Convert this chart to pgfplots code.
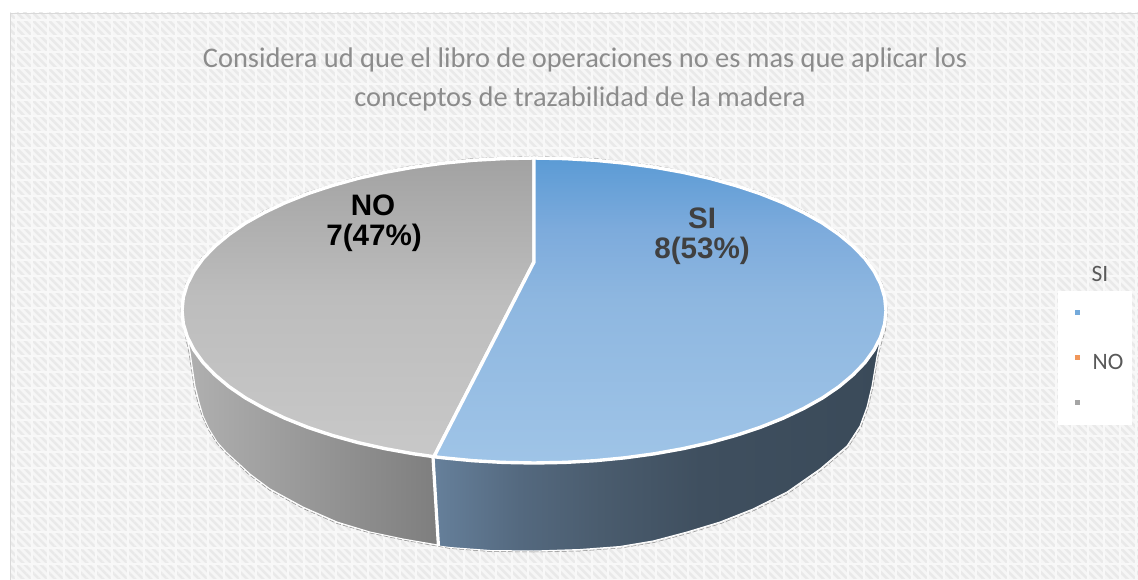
\documentclass[border=0pt]{standalone}
\usepackage{fontspec}
\usepackage{pgfplots}
\pgfplotsset{compat=1.18}
\usetikzlibrary{patterns.meta}
\setmainfont{Carlito}
\newfontfamily\labelfont{Liberation Sans}

\definecolor{frameline}{HTML}{D9D9D9}
\definecolor{bgbase}{HTML}{F6F6F6}
\definecolor{bgstripe}{HTML}{E9E9E9}
\definecolor{gridline}{HTML}{F8F8F8}
\definecolor{titlegray}{HTML}{8C8C8C}
\definecolor{legendtext}{HTML}{595959}
\definecolor{labeldark}{HTML}{404040}
\definecolor{blueA}{HTML}{5B9BD5}
\definecolor{blueM}{HTML}{7DABDC}
\definecolor{blueN}{HTML}{8EB7E0}
\definecolor{blueB}{HTML}{9FC4E7}
\definecolor{grayA}{HTML}{A2A2A2}
\definecolor{grayM}{HTML}{B0B0B0}
\definecolor{grayN}{HTML}{BDBDBD}
\definecolor{grayB}{HTML}{C8C8C8}
\definecolor{sideGA}{HTML}{B0B0B0}
\definecolor{sideGB}{HTML}{7E7E7E}
\definecolor{sideBA}{HTML}{66809B}
\definecolor{sideBM}{HTML}{54697F}
\definecolor{sideBN}{HTML}{4A5C6E}
\definecolor{sideBO}{HTML}{3F4F5F}
\definecolor{sideBB}{HTML}{3A4A59}
\definecolor{orangeK}{HTML}{ED7D31}
\definecolor{grayK}{HTML}{A5A5A5}

% the path box runs from 25bp to 75bp of these shadings
\pgfdeclareverticalshading{topblue}{100bp}{color(0bp)=(blueB); color(25bp)=(blueB); color(51.7bp)=(blueN); color(63.2bp)=(blueM); color(75bp)=(blueA); color(100bp)=(blueA)}
\pgfdeclareverticalshading{topgray}{100bp}{color(0bp)=(grayB); color(25bp)=(grayB); color(51.7bp)=(grayN); color(63.2bp)=(grayM); color(75bp)=(grayA); color(100bp)=(grayA)}
\pgfdeclarehorizontalshading{wallblue}{100bp}{color(0bp)=(sideBA); color(25bp)=(sideBA); color(34.7bp)=(sideBM); color(43.7bp)=(sideBN); color(54.9bp)=(sideBO); color(75bp)=(sideBB); color(100bp)=(sideBB)}

% outlines, in pixels (SI 8, NO 7)
\pgfplotstableread{
x y
10 13
1138 13
1138 580
10 580
}\bgrect

\pgfplotstableread{
x y
534 158
564.7 158.6
595.1 160.3
625.1 163.2
654.4 167.2
682.8 172.3
710 178.4
735.9 185.6
760.3 193.7
782.9 202.7
803.6 212.5
822.4 223
838.8 234.3
853 246.1
864.8 258.3
874 271
880.7 284
884.7 297.2
886 310.5
884.7 323.8
880.7 337
874 350
864.8 362.7
853 374.9
838.8 386.8
822.4 398
803.6 408.5
782.9 418.3
760.3 427.3
735.9 435.4
710 442.6
682.8 448.7
654.4 453.8
625.1 457.8
595.1 460.7
564.7 462.4
534 463
503.3 462.4
472.9 460.7
442.9 457.8
434 456.7
534 262
}\topsi

\pgfplotstableread{
x y
434 456.7
413.6 453.8
385.2 448.7
358 442.6
332.1 435.4
307.7 427.3
285.1 418.3
264.4 408.5
245.6 398
229.2 386.8
215 374.9
203.2 362.7
194 350
187.3 337
183.3 323.8
182 310.5
183.3 297.2
187.3 284
194 271
203.2 258.3
215 246.1
229.2 234.3
245.6 223
264.4 212.5
285.1 202.7
307.7 193.7
332.1 185.6
358 178.4
385.2 172.3
413.6 167.2
442.9 163.2
472.9 160.3
503.3 158.6
534 158
534 262
}\topno

\pgfplotstableread{
x y
433 450
438 545
403 539
370 532
337 522
303 507
270 489
250 474
237 462
226 452
217 442
209 429
203 416
199 402
195 386
190 352
186 330
200 330
300 420
}\sideno

\pgfplotstableread{
x y
433 450
438 546
450 547.5
490 550.5
534 551
580 549.5
620 546.5
653 541
687 532
720 522
753 509
787 492
820 469
847 446
860 426
867 407
872 386
877 356
880 342
860 340
760 420
600 450
}\sidesi

\pgfplotstableread{
x y
534 552
490 551.5
450 548.5
403 540
370 533
337 523.5
303 508.5
270 490.5
250 475.5
237 463.5
226 453.5
217 443.5
208.5 430
202.5 417
198 403
194 387
189 353
184 330
180.3 310.5
185.7 283.7
201.6 257.7
227.7 233.4
263.1 211.3
306.6 192.3
357.2 176.9
413 165.5
472.6 158.5
534 156.2
595.4 158.5
655 165.5
710.9 176.9
761.4 192.3
805 211.3
840.3 233.4
866.4 257.7
882.3 283.7
887.7 310.5
885.5 330
881.5 343
878 357
873 387
868 408
861 427.5
848 447.5
821 470.5
788 493.5
754 510.5
721 523.5
688 533.5
654 542.5
621 548
580 551
534 552
}\rim

\begin{document}
\begin{tikzpicture}
\begin{axis}[
    width=1138pt, height=580pt,
    scale only axis,
    xmin=0, xmax=1138,
    ymin=0, ymax=580,
    y dir=reverse,
    axis lines=none,
    clip=true,
]
% page area, keeps the white margin in the picture
\addplot[forget plot, draw=none, fill=white] coordinates {(0,0) (1138,0) (1138,580) (0,580)} -- cycle;
% chart background
\addplot[forget plot, draw=none, fill=bgbase] table {\bgrect} -- cycle;
\addplot[forget plot, draw=none, pattern={Lines[angle=-45,distance=5.66pt,line width=2.5pt]}, pattern color=bgstripe] table {\bgrect} -- cycle;
\addplot[forget plot, draw=none, pattern={Lines[angle=0,distance=16pt,line width=1.2pt]}, pattern color=gridline] table {\bgrect} -- cycle;
\addplot[forget plot, draw=none, pattern={Lines[angle=90,distance=16pt,line width=1.2pt]}, pattern color=gridline] table {\bgrect} -- cycle;
\addplot[forget plot, frameline, line width=1.6pt] coordinates {(10.5,580) (10.5,13.5) (1138,13.5)};

% pie walls
\addplot[forget plot, draw=white, line width=1pt, line join=round, left color=sideGA, right color=sideGB] table {\sideno} -- cycle;
\addplot[forget plot, draw=white, line width=1pt, line join=round, shading=wallblue] table {\sidesi} -- cycle;
\addplot[forget plot, white, line width=3.2pt] coordinates {(433,457) (438.5,547)};
\addplot[forget plot, dash pattern=on 5pt off 2pt, color=black!45, line width=0.5pt] table {\rim};

% pie top
\addplot[forget plot, draw=white, line width=3.4pt, line join=round, shading=topgray] table {\topno} -- cycle;
\addplot[forget plot, draw=white, line width=3.4pt, line join=round, shading=topblue] table {\topsi} -- cycle;

% legend
\addplot[forget plot, draw=none, fill=white] coordinates {(1058,291) (1132,291) (1132,425) (1058,425)} -- cycle;
\addplot[only marks, mark=square*, mark size=1.7pt, color=blueA!85!white] coordinates {(1077,312)};
\addplot[only marks, mark=square*, mark size=1.7pt, color=orangeK!80!white] coordinates {(1077,357)};
\addplot[only marks, mark=square*, mark size=1.7pt, color=grayK] coordinates {(1077,402)};

\node[text=titlegray, font=\fontsize{28.4}{28.4}\selectfont, anchor=center] at (axis cs:585,59.5) {Considera ud que el libro de operaciones no es mas que aplicar los};
\node[text=titlegray, font=\fontsize{28.4}{28.4}\selectfont, anchor=center] at (axis cs:580,98.5) {conceptos de trazabilidad de la madera};

\node[text=labeldark, font=\labelfont\bfseries\fontsize{29.6}{29.6}\selectfont] at (axis cs:702,218) {SI};
\node[text=labeldark, font=\labelfont\bfseries\fontsize{29.6}{29.6}\selectfont] at (axis cs:702,251) {8(53\%)};
\node[text=black, font=\labelfont\bfseries\fontsize{29.6}{29.6}\selectfont] at (axis cs:373,205) {NO};
\node[text=black, font=\labelfont\bfseries\fontsize{29.6}{29.6}\selectfont] at (axis cs:374,238) {7(47\%)};

\node[text=legendtext, font=\fontsize{23.5}{23.5}\selectfont] at (axis cs:1100,274) {SI};
\node[text=legendtext, font=\fontsize{23.5}{23.5}\selectfont] at (axis cs:1108,362) {NO};
\end{axis}
\end{tikzpicture}
\end{document}
